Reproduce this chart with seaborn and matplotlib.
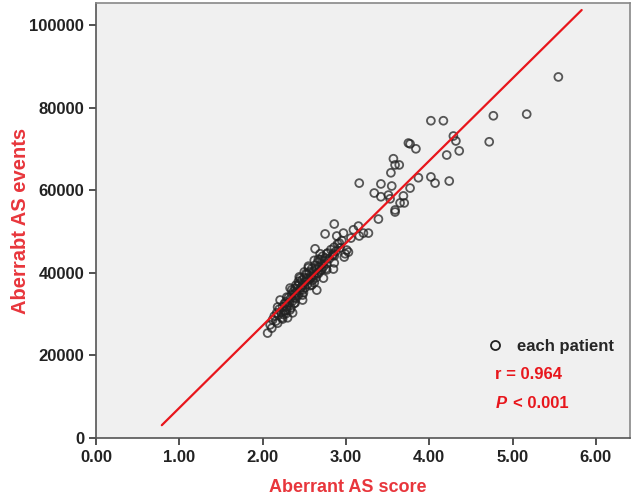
import numpy as np
import pandas as pd
import matplotlib
matplotlib.use('Agg')
import matplotlib.pyplot as plt
import seaborn as sns
from matplotlib.lines import Line2D

# values (score, events)
score_high = [5.55, 5.17, 4.77, 4.72, 4.02, 4.17, 4.29, 4.32, 3.75, 3.77,
              3.84, 4.21, 4.36, 3.57, 3.64, 3.59, 3.54, 3.87, 4.02, 4.07,
              4.24, 3.16, 3.42, 3.55, 3.77, 3.34, 3.42, 3.51, 3.53, 3.69,
              3.65, 3.70, 3.59, 3.59, 3.39, 2.86, 3.15, 3.09, 2.97, 2.89,
              3.21, 3.27, 3.16, 3.06, 2.92, 3.03, 2.99, 2.85, 2.75]
events_high = [87400, 78400, 78000, 71700, 76800, 76800, 73100, 71900, 71400, 71200,
               70000, 68500, 69500, 67600, 66100, 66100, 64200, 63000, 63200, 61700,
               62200, 61700, 61500, 61000, 60500, 59300, 58400, 58800, 57900, 58600,
               56900, 56900, 55200, 54700, 53000, 51800, 51300, 50400, 49600, 48900,
               49600, 49600, 48900, 48400, 47200, 45000, 44600, 44600, 49400]

score_low = [2.63, 2.69, 2.77, 2.86, 3.01, 2.98, 2.67, 2.86, 2.55, 2.44,
             2.77, 2.85, 2.61, 2.53, 2.73, 2.33, 2.39, 2.48, 2.59, 2.65,
             2.21, 2.29, 2.39, 2.48, 2.18, 2.29, 2.36, 2.17, 2.23, 2.30,
             2.12, 2.09, 2.18, 2.11, 2.06]
events_low = [45800, 44600, 44600, 44100, 45500, 43800, 43300, 42400, 41200, 39000,
              40700, 40900, 39500, 38700, 38700, 36300, 35100, 35800, 37000, 35800,
              33400, 34100, 32700, 33400, 31700, 31000, 30300, 30300, 29100, 29100,
              28600, 27400, 27800, 26600, 25400]

score_dense = [2.14, 2.16, 2.19, 2.20, 2.22, 2.24, 2.25, 2.26, 2.27, 2.28,
               2.29, 2.30, 2.31, 2.32, 2.33, 2.34, 2.35, 2.36, 2.37, 2.38,
               2.39, 2.40, 2.41, 2.42, 2.43, 2.44, 2.45, 2.46, 2.47, 2.48,
               2.49, 2.50, 2.51, 2.52, 2.53, 2.54, 2.55, 2.56, 2.57, 2.58,
               2.59, 2.60, 2.61, 2.62, 2.63, 2.64, 2.65, 2.66, 2.67, 2.68,
               2.69, 2.70, 2.71, 2.72, 2.73, 2.74, 2.75, 2.77, 2.78, 2.80,
               2.82, 2.84, 2.86, 2.88, 2.90, 2.93, 2.95, 2.24, 2.28, 2.33,
               2.38, 2.43, 2.48, 2.52, 2.57, 2.62, 2.66, 2.71, 2.76, 2.35,
               2.45, 2.55, 2.62, 2.50, 2.40]
events_dense = [29500, 28300, 29800, 31200, 30400, 31800, 29900, 32500, 30800, 33000,
                31700, 32200, 34000, 32800, 33600, 31500, 34800, 33200, 35500, 34000,
                36200, 33800, 35000, 36800, 34600, 37400, 35800, 36500, 38200, 37000,
                35200, 38800, 36400, 37800, 39600, 37200, 38400, 40200, 36900, 39000,
                41000, 38200, 40400, 39200, 41800, 38800, 40900, 42500, 39800, 41300,
                43200, 40600, 42000, 44000, 41500, 42800, 43600, 42200, 44800, 43400,
                45600, 44200, 46200, 45200, 47000, 46000, 47800, 28800, 30100, 31000,
                32600, 37900, 34600, 39800, 38500, 37600, 40000, 40800, 41000, 35900,
                38700, 41600, 43000, 40200, 37000]

# fit line ends as drawn in the reference
fit_x = [0.79, 5.83]
fit_y = [3100, 103600]

x_ticks = [0, 1, 2, 3, 4, 5, 6]
x_tick_labels = ['0.00', '1.00', '2.00', '3.00', '4.00', '5.00', '6.00']
y_ticks = [0, 20000, 40000, 60000, 80000, 100000]

df = pd.DataFrame({
    'score': score_high + score_low + score_dense,
    'events': events_high + events_low + events_dense,
})

sns.set_style('ticks', {'axes.facecolor': '#F0F0F0'})
plt.rcParams['font.family'] = ['Liberation Sans', 'DejaVu Sans']

red = '#E8161C'
label_red = '#E8363C'

fig, ax = plt.subplots(figsize=(6.33, 5.04), dpi=100)
fig.subplots_adjust(left=96/633, right=630/633, top=1-3/504, bottom=1-438/504)

sns.scatterplot(data=df, x='score', y='events', ax=ax, marker='o',
                facecolor='none', edgecolor='#222222', linewidth=1.3,
                s=32, alpha=0.75, zorder=3)
sns.lineplot(x=fit_x, y=fit_y, ax=ax, color=red, linewidth=1.6, zorder=4)

ax.set_xlim(0, 6.41)
ax.set_ylim(0, 105300)
ax.set_xticks(x_ticks)
ax.set_xticklabels(x_tick_labels)
ax.set_yticks(y_ticks)
ax.tick_params(axis='both', labelsize=12, colors='#222222', length=5,
               width=1.1, direction='out')
for lbl in ax.get_xticklabels() + ax.get_yticklabels():
    lbl.set_fontweight('bold')

for side in ['left', 'bottom']:
    ax.spines[side].set_color('#555555')
    ax.spines[side].set_linewidth(1.2)
for side in ['top', 'right']:
    ax.spines[side].set_visible(True)
    ax.spines[side].set_color('#888888')
    ax.spines[side].set_linewidth(1.2)

ax.set_xlabel('Aberrant AS score', fontsize=13, fontweight='bold',
              color=label_red)
ax.set_ylabel('Aberrabt AS events', fontsize=14.5, fontweight='bold',
              color=label_red)
ax.xaxis.set_label_coords(0.472, -0.095)
ax.yaxis.set_label_coords(-0.142, 0.50)
ax.yaxis.label.set_verticalalignment('center')

handle = Line2D([], [], marker='o', linestyle='none', markerfacecolor='none',
                markeredgecolor='#222222', markeredgewidth=1.3, markersize=6.5)
ax.legend([handle], ['each patient'], loc='center left',
          bbox_to_anchor=(0.688, 0.211), frameon=False, handletextpad=0.3,
          prop={'size': 12, 'weight': 'bold'})

ax.text(0.748, 0.147, 'r = 0.964', transform=ax.transAxes, color=red,
        fontsize=12, fontweight='bold', va='center', ha='left')
ax.text(0.748, 0.080, 'P', transform=ax.transAxes, color=red,
        fontsize=12, fontweight='bold', fontstyle='italic', va='center', ha='left')
ax.annotate('< 0.001', xy=(0.748, 0.080), xycoords='axes fraction',
            xytext=(12.5, 0), textcoords='offset points', color=red,
            fontsize=12, fontweight='bold', va='center', ha='left')

fig.savefig('out.png', dpi=100, facecolor='white')
